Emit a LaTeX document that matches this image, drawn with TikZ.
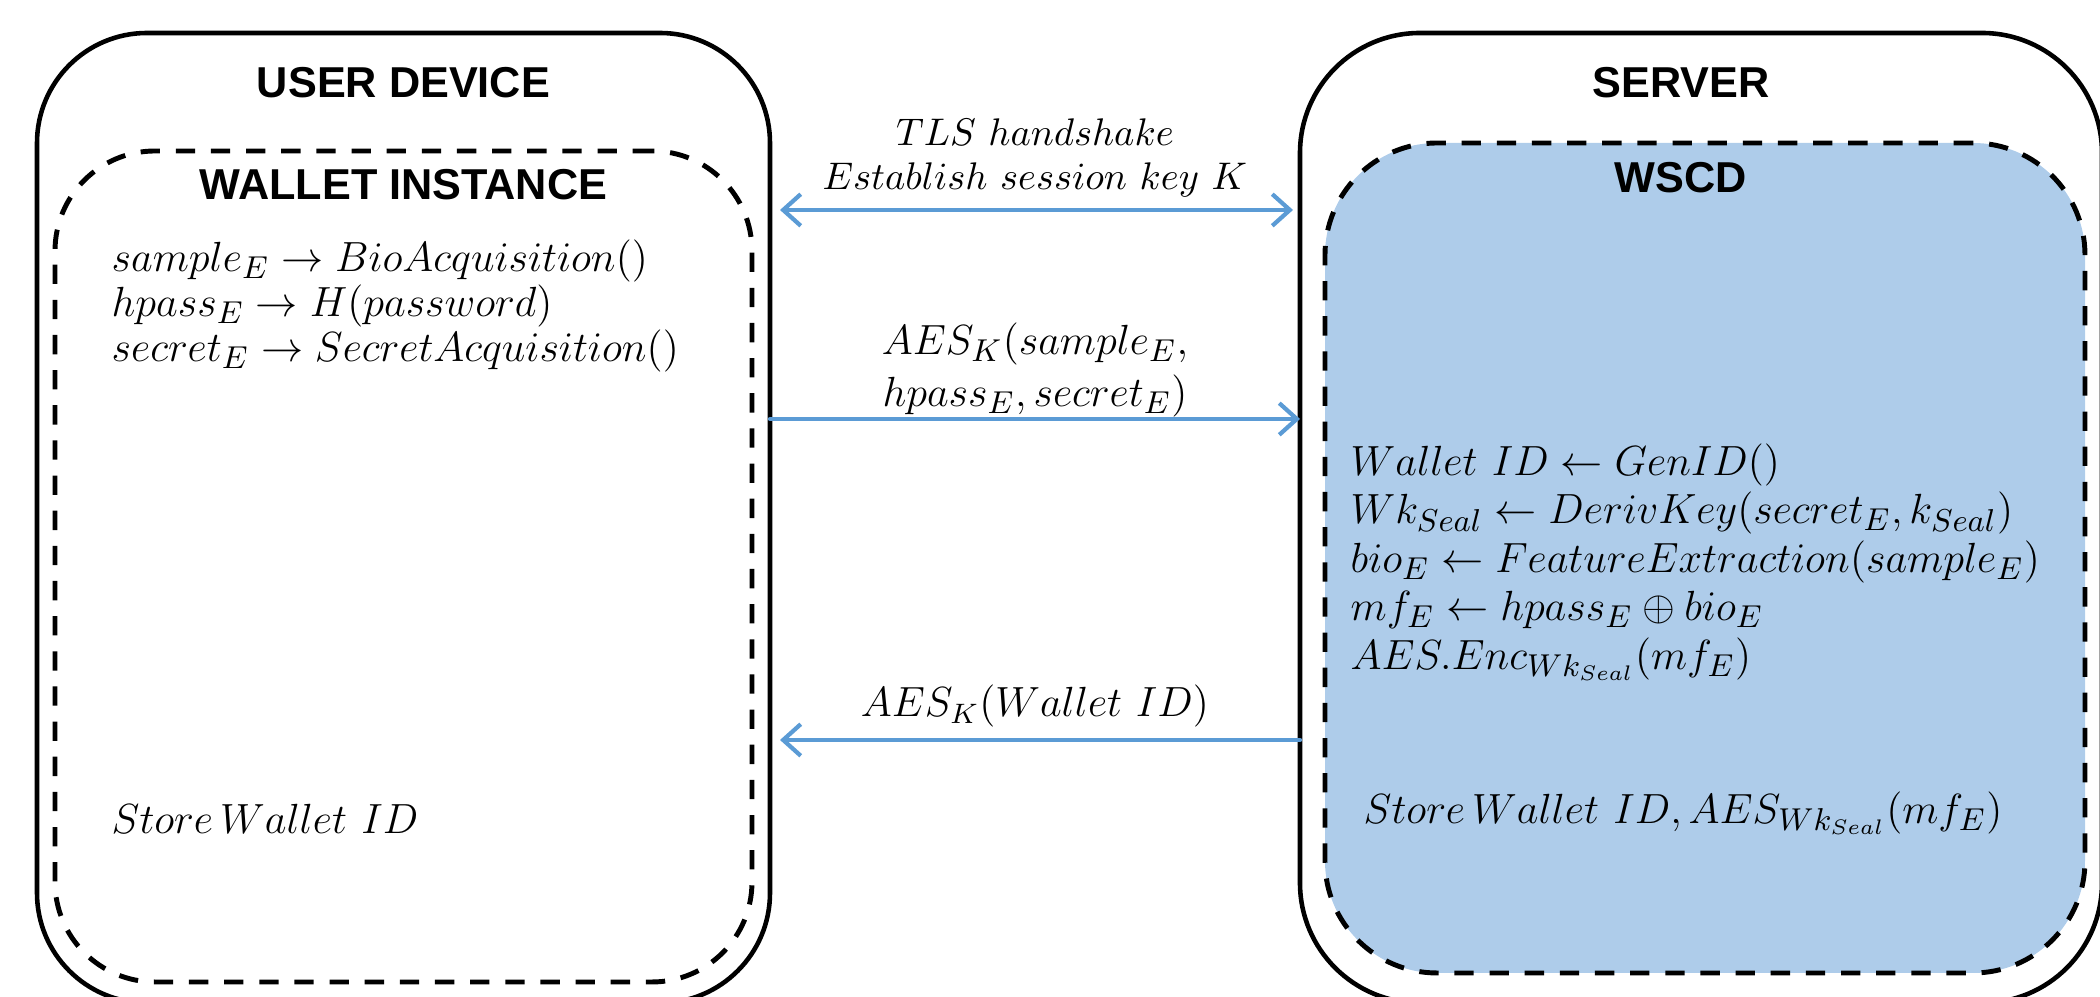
\documentclass[tikz,border=0pt]{standalone}
\usepackage{amsmath, amssymb}
\usepackage{fontspec}
\newfontfamily\headfont{Liberation Sans}
\usepackage{tikz}
\usetikzlibrary{positioning, shapes, arrows.meta, calc}

\definecolor{msgblue}{RGB}{91,155,213}
\definecolor{wscdfill}{RGB}{174,204,234}

\begin{document}
\begin{tikzpicture}[node distance=1.5cm, auto,
  outerbox/.style={draw, line width=1.3pt, inner sep=0pt, outer sep=0pt},
  innerbox/.style={draw, dashed, dash pattern=on 5.5pt off 4.5pt, line width=1.4pt, inner sep=0pt, outer sep=0pt},
  boxtitle/.style={inner sep=1pt, font=\headfont\bfseries\fontsize{12.3}{14}\selectfont},
  steps/.style={align=left, anchor=west, inner sep=0pt, font=\fontsize{12.6}{13.8}\selectfont},
  msg/.style={draw=msgblue, line width=1.2pt, line cap=round, arrows={-Straight Barb[length=5pt, width=9pt]}}]
  \useasboundingbox (0,0) rectangle (21,9.97);
  \clip (0,0) rectangle (21,9.97);

  \node[outerbox, rounded corners=1.1cm, minimum width=7.33cm, minimum height=9.7cm] (device) at (4.035,4.79) {};
  \node[innerbox, rounded corners=1.0cm, minimum width=6.97cm, minimum height=8.31cm] (wallet) at (4.035,4.305) {};
  \node[outerbox, rounded corners=1.2cm, minimum width=8.02cm, minimum height=9.7cm] (server) at (17.01,4.79) {};
  \node[innerbox, fill=wscdfill, rounded corners=1.12cm, minimum width=7.6cm, minimum height=8.3cm] (wscd) at (17.05,4.39) {};

  \node[boxtitle] (devtitle) at ($(device.north)+(0,-0.5)$) {USER DEVICE};
  \node[boxtitle] (wallettitle) at ($(wallet.north)+(0,-0.34)$) {WALLET INSTANCE};
  \node[boxtitle] (servertitle) at ($(server.north)+(-0.2,-0.5)$) {SERVER};
  \node[boxtitle] (wscdtitle) at ($(wscd.north)+(-0.24,-0.35)$) {WSCD};

  \node[steps, font=\fontsize{12.6}{12.8}\selectfont] (acquire) at (1.11,6.91) {$sample_E \rightarrow BioAcquisition()$\\
    $hpass_E \rightarrow H(password)$\\
    $secret_E \rightarrow SecretAcquisition()$};
  \node[steps] (storedev) at (1.11,1.78) {$Store\,Wallet\ ID$};

  \node[steps] (enroll) at (13.5,4.35) {$Wallet\ ID \leftarrow GenID()$\\
    $Wk_{Seal} \leftarrow DerivKey(secret_E, k_{Seal})$\\
    $bio_E \leftarrow FeatureExtraction(sample_E)$\\
    $mf_E \leftarrow hpass_E \oplus bio_E$\\
    $AES.Enc_{Wk_{Seal}}(mf_E)$};
  \node[steps] (storesrv) at (13.63,1.84) {$Store\,Wallet\ ID, AES_{Wk_{Seal}}(mf_E)$};

  \coordinate (hs) at (0,7.87);
  \coordinate (up) at (0,5.78);
  \coordinate (down) at (0,2.57);
  \draw[msg, arrows={Straight Barb[length=5pt, width=9pt]-Straight Barb[length=5pt, width=9pt]}, shorten <=0.1cm, shorten >=0.07cm]
    (device.east |- hs) -- (server.west |- hs)
    node[midway, above, align=center, inner sep=3pt, font=\fontsize{11}{12.5}\selectfont] (tlslabel) {$TLS\ handshake$\\ $Establish\ session\ key\ K$};
  \draw[msg] (device.east |- up) -- (server.west |- up)
    node[midway, above, inner sep=0pt, font=\fontsize{12.3}{14}\selectfont] (sendlow) {$hpass_E, secret_E)$};
  \node[font=\fontsize{12.3}{14}\selectfont, inner sep=0pt] (sendtop) [above=2pt of sendlow] {$AES_K(sample_E,$};
  \draw[msg, shorten >=0.1cm] (server.west |- down) -- (device.east |- down)
    node[midway, above, inner sep=3pt, font=\fontsize{12}{14}\selectfont] (replylabel) {$AES_K(Wallet\ ID)$};
\end{tikzpicture}
\end{document}
